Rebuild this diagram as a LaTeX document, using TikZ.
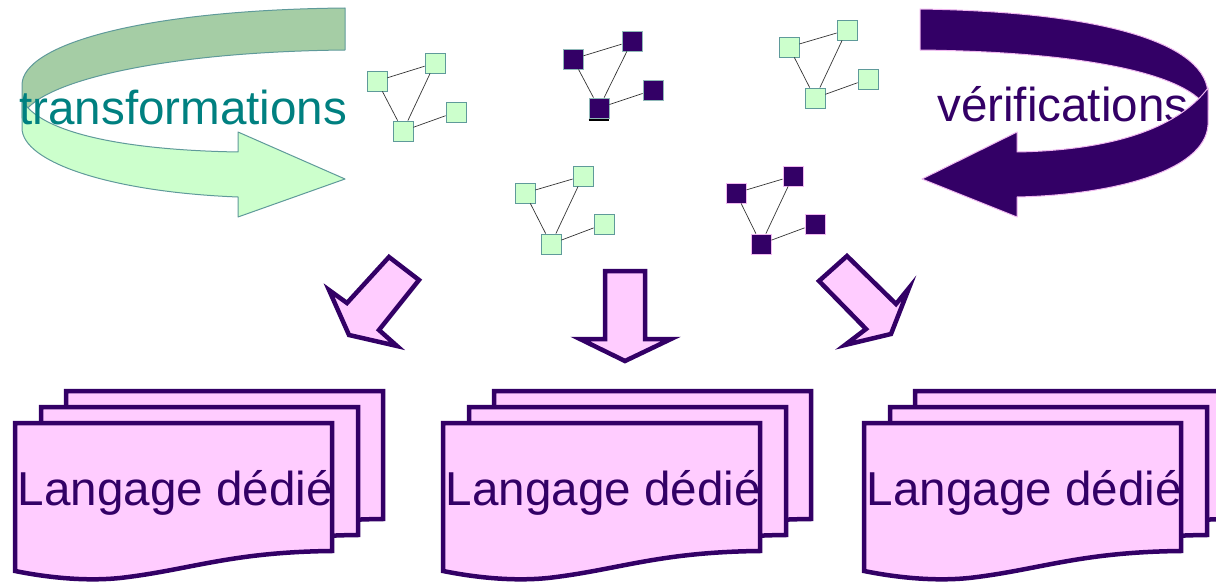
\documentclass[tikz,border=0pt]{standalone}
\usepackage{fontspec}
\setmainfont{Liberation Sans}
\definecolor{pl}{HTML}{330066}
\definecolor{pk}{HTML}{FFCCFF}
\definecolor{lg}{HTML}{CCFFCC}
\definecolor{dg}{HTML}{A5CDA5}
\definecolor{tealedge}{HTML}{5F9A9A}
\definecolor{tealtxt}{HTML}{008080}
\definecolor{pinkedge}{HTML}{F0B8F0}
\begin{document}
\begin{tikzpicture}[x=1pt,y=-1pt,
  bandL/.style={draw=tealedge, line width=1pt, line join=round},
  bandR/.style={draw=pinkedge, fill=pl, line width=1pt, line join=round},
  bigtxt/.style={font=\fontsize{47.6}{50}\selectfont, inner sep=0pt, anchor=base west},
  lsq/.style={draw=tealedge, fill=lg, minimum size=20pt, inner sep=0pt, line width=0.8pt},
  dsq/.style={draw=pinkedge, fill=pl, minimum size=20pt, inner sep=0pt, line width=0.8pt},
  dsqb/.style={draw=tealedge!70, fill=pl, minimum size=20pt, inner sep=0pt, line width=0.8pt},
  gline/.style={draw=black!80, line width=0.7pt},
  darrow/.style={draw=pl, fill=pk, line width=4.5pt, line join=miter},
  docpage/.style={draw=pl, fill=pk, line width=4.5pt, line join=miter}
]
\clip (0,0) rectangle (1216,583);

% ---- left curved arrow (transformations)
\draw[bandL, fill=dg] (345,8) .. controls (140,10) and (22,45) .. (22,85)
  -- (22,118) .. controls (30,85) and (150,52) .. (345,50) -- cycle;
\draw[bandL, fill=lg] (22,100) -- (22,128) .. controls (22,162) and (110,192) .. (238,197)
  -- (238,217) -- (345,179) -- (238,132) -- (238,152)
  .. controls (120,150) and (40,132) .. (22,100) -- cycle;
\node[bigtxt, text=tealtxt] (ttrans) at (19,125) {transformations};

% ---- right curved arrow (verifications)
\draw[bandR] (920,9) .. controls (1110,12) and (1208,45) .. (1208,95)
  -- (1208,110) .. controls (1190,75) and (1090,52) .. (920,50) -- cycle;
\node[bigtxt, text=pl] (tverif) at (937,122) {vérifications};
\draw[bandR] (1208,88) -- (1208,125) .. controls (1205,172) and (1110,195) .. (1017,197)
  -- (1017,217) -- (922,179) -- (1017,132) -- (1017,152)
  .. controls (1120,150) and (1180,125) .. (1208,88) -- cycle;

% ---- small graphs
% graph 1 (light)
\node[lsq] (g1a) at (377,81) {};
\node[lsq] (g1b) at (435,63) {};
\node[lsq] (g1c) at (403,131) {};
\node[lsq] (g1d) at (456,112) {};
% graph 2 (dark)
\node[dsqb] (g2a) at (573,59) {};
\node[dsqb] (g2b) at (632,41) {};
\node[dsqb] (g2c) at (599,108) {};
\node[dsqb] (g2d) at (653,90) {};
% graph 3 (light)
\node[lsq] (g3a) at (525,193) {};
\node[lsq] (g3b) at (583,176) {};
\node[lsq] (g3c) at (551,244) {};
\node[lsq] (g3d) at (604,224) {};
% graph 4 (light)
\node[lsq] (g4a) at (789,47) {};
\node[lsq] (g4b) at (847,30) {};
\node[lsq] (g4c) at (815,98) {};
\node[lsq] (g4d) at (868,79) {};
% graph 5 (dark)
\node[dsq] (g5a) at (736,193) {};
\node[dsq] (g5b) at (793,176) {};
\node[dsq] (g5c) at (761,244) {};
\node[dsq] (g5d) at (815,224) {};
\foreach \g in {g1,g2,g3,g4,g5}{
  \draw[gline] (\g a) -- (\g b);
  \draw[gline] (\g a) -- (\g c);
  \draw[gline] (\g b) -- (\g c);
  \draw[gline] (\g c) -- (\g d);
}
\draw[black, line width=2pt] ([yshift=-1.5pt]g2c.south west) -- ([yshift=-1.5pt]g2c.south east);

% ---- down arrows
\draw[darrow] (389,257) -- (419,280) -- (379,330) -- (397,346) -- (349,335)
  -- (329,290) -- (347,303) -- cycle;
\draw[darrow] (605,271) -- (645,271) -- (645,339) -- (671,339) -- (625,361)
  -- (580,339) -- (605,339) -- cycle;
\draw[darrow] (847,256) -- (896,304) -- (909,288) -- (891,334) -- (845,345)
  -- (866,329) -- (819,281) -- cycle;

% ---- document stacks
\foreach \X/\nm in {0/a, 428/b, 849/c}{
  \begin{scope}[shift={(\X+51,-32)}]
    \draw[docpage] (15,423) -- (332,423) -- (332,551) .. controls (230,552) and (190,570) .. (120,578)
      .. controls (80,582) and (40,576) .. (15,571) -- cycle;
  \end{scope}
  \begin{scope}[shift={(\X+26,-16)}]
    \draw[docpage] (15,423) -- (332,423) -- (332,551) .. controls (230,552) and (190,570) .. (120,578)
      .. controls (80,582) and (40,576) .. (15,571) -- cycle;
  \end{scope}
  \begin{scope}[shift={(\X,0)}]
    \fill[pk] (15,423) -- (332,423) -- (332,551) .. controls (230,552) and (190,570) .. (120,578)
      .. controls (80,582) and (40,576) .. (15,571) -- cycle;
    \begin{scope}
      \clip (15,423) -- (332,423) -- (332,551) -- (15,571) -- cycle;
      \node[bigtxt, text=pl] (lang\nm) at (17.5,505) {Langage dédié};
    \end{scope}
    \draw[docpage, fill=none] (15,423) -- (332,423) -- (332,551) .. controls (230,552) and (190,570) .. (120,578)
      .. controls (80,582) and (40,576) .. (15,571) -- cycle;
  \end{scope}
}
\end{tikzpicture}
\end{document}
